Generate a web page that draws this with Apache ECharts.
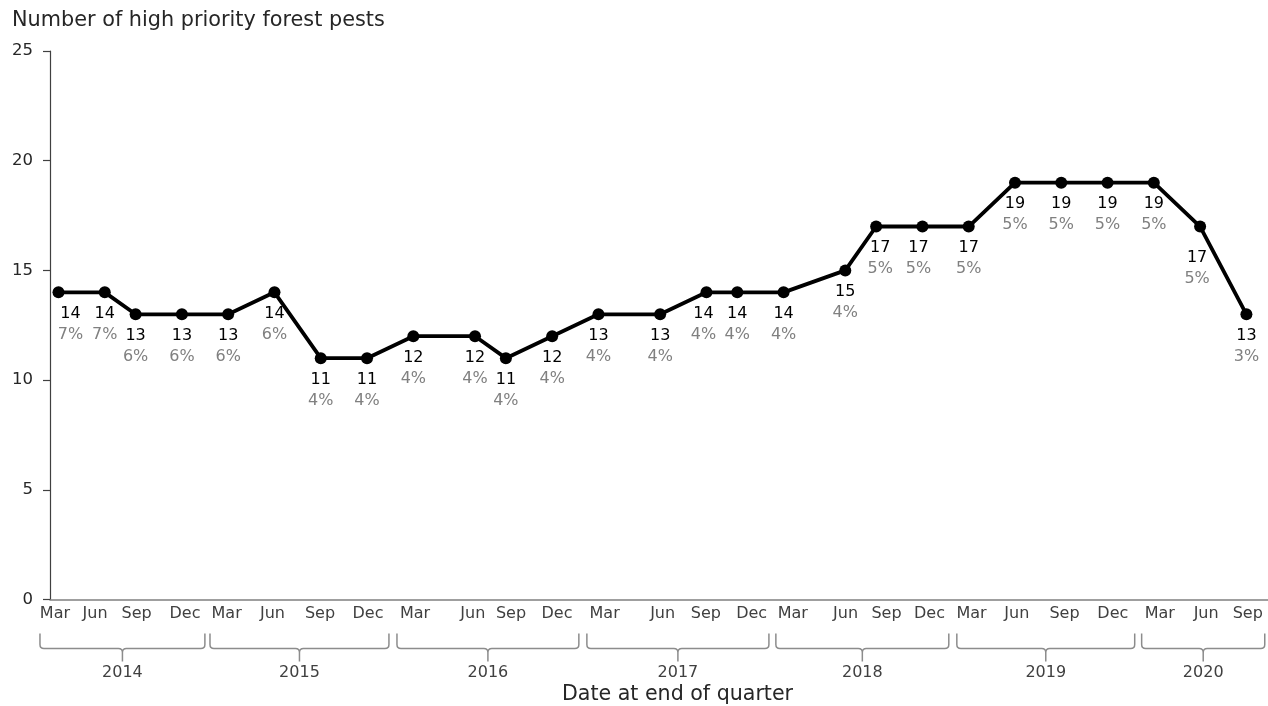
<!DOCTYPE html>
<html>
<head>
<meta charset="utf-8">
<script src="https://cdn.jsdelivr.net/npm/echarts@6/dist/echarts.min.js"></script>
<style>
  html, body { margin: 0; padding: 0; background: #ffffff; }
  #chart { width: 1268px; height: 706px; }
</style>
</head>
<body>
<div id="chart"></div>
<script>
// High priority forest pests counted at the end of each quarter, Mar 2014 - Sep 2020.
// Positions along the time line, in months after March 2014.
const monthOffsets = [0, 3, 5, 8, 11, 14, 17, 20, 23, 27, 29, 32, 35, 39, 42, 44, 47, 51, 53, 56, 59, 62, 65, 68, 71, 74, 77];
const pestCounts = [14, 14, 13, 13, 13, 14, 11, 11, 12, 12, 11, 12, 13, 13, 14, 14, 14, 15, 17, 17, 17, 19, 19, 19, 19, 17, 13];
const pestShares = [7, 7, 6, 6, 6, 6, 4, 4, 4, 4, 4, 4, 4, 4, 4, 4, 4, 4, 5, 5, 5, 5, 5, 5, 5, 5, 3];

// Quarter tick labels and where they sit on the time line (months after March 2014),
// spread a little where neighbouring quarters are close together.
const quarterLabels = ['Mar', 'Jun', 'Sep', 'Dec', 'Mar', 'Jun', 'Sep', 'Dec', 'Mar', 'Jun', 'Sep', 'Dec',
                       'Mar', 'Jun', 'Sep', 'Dec', 'Mar', 'Jun', 'Sep', 'Dec', 'Mar', 'Jun', 'Sep', 'Dec',
                       'Mar', 'Jun', 'Sep'];
const quarterLabelMonths = [-0.23, 2.37, 5.06, 8.2, 10.9, 13.87, 16.95, 20.06, 23.11, 26.86, 29.33, 32.31,
                            35.4, 39.16, 41.96, 44.93, 47.6, 51.02, 53.67, 56.46, 59.18, 62.12, 65.21, 68.34,
                            71.39, 74.39, 77.09];

// Year groupings under the quarter labels (start and end, in months after March 2014).
const years = ['2014', '2015', '2016', '2017', '2018', '2019', '2020'];
const yearStarts = [-1.2, 9.82, 21.94, 34.25, 46.5, 58.23, 70.21];
const yearEnds = [9.49, 21.42, 33.73, 46.05, 57.71, 69.76, 78.19];

const yTicks = { min: 0, max: 25, step: 5 };

const FONT = 'Verdana, "DejaVu Sans", sans-serif';
const chart = echarts.init(document.getElementById('chart'), null, { renderer: 'canvas' });

// Small label nudges where a label would touch the line or the axis.
const labelNudge = { 0: [12, 0], 14: [-3, 0], 18: [4, 0], 19: [-4, 0], 25: [-3, 10] };

const lineData = monthOffsets.map((m, i) => {
  const item = { value: [m, pestCounts[i]] };
  if (labelNudge[i]) item.label = { offset: labelNudge[i] };
  return item;
});

// Curly brace with a centre point, drawn beneath the axis for each year.
function renderYearBrace(params, api) {
  const i = params.dataIndex;
  const p0 = api.coord([api.value(0), 0]);
  const p1 = api.coord([api.value(1), 0]);
  const base = p0[1];
  const x0 = p0[0], x1 = p1[0], xc = (x0 + x1) / 2;
  const top = base + 34, h = base + 49, bot = base + 62, r = 4;
  const d = [
    'M', x0, top, 'L', x0, h - r, 'Q', x0, h, x0 + r, h,
    'L', xc - r, h, 'Q', xc, h, xc, h + r, 'L', xc, bot,
    'M', xc, h + r, 'Q', xc, h, xc + r, h,
    'L', x1 - r, h, 'Q', x1, h, x1, h - r, 'L', x1, top
  ].join(' ');
  return {
    type: 'group',
    children: [
      {
        type: 'path',
        shape: { pathData: d },
        style: { fill: 'none', stroke: '#8c8c8c', lineWidth: 1.5 }
      },
      {
        type: 'text',
        style: {
          text: years[i], x: xc, y: base + 73,
          align: 'center', verticalAlign: 'middle',
          font: '16px ' + FONT, fill: '#404040'
        }
      }
    ]
  };
}

chart.setOption({
  animation: false,
  backgroundColor: '#ffffff',
  textStyle: { fontFamily: FONT },
  grid: { left: 50, right: 0, top: 51, bottom: 106.5, containLabel: false, outerBoundsMode: 'none' },
  graphic: [
    {
      type: 'text', left: 12, top: 10,
      style: { text: 'Number of high priority forest pests', font: '20.8px ' + FONT, fill: '#262626' }
    },
    {
      type: 'text', x: 677.5, y: 695,
      style: { text: 'Date at end of quarter', font: '20.6px ' + FONT, fill: '#262626', align: 'center', verticalAlign: 'middle' }
    }
  ],
  xAxis: {
    type: 'value',
    min: -0.55,
    max: 78.4,
    splitLine: { show: false },
    axisLine: { show: true, onZero: false, lineStyle: { color: '#808080', width: 1.5 } },
    axisTick: { show: false },
    axisLabel: {
      customValues: quarterLabelMonths,
      formatter: (v) => quarterLabels[quarterLabelMonths.indexOf(v)],
      margin: 6,
      fontSize: 16,
      color: '#404040',
      fontFamily: FONT
    }
  },
  yAxis: {
    type: 'value',
    min: yTicks.min,
    max: yTicks.max,
    interval: yTicks.step,
    splitLine: { show: false },
    axisLine: { show: true, onZero: false, lineStyle: { color: '#404040', width: 1.2 } },
    axisTick: { show: true, inside: false, length: 7, lineStyle: { color: '#404040', width: 1.2 } },
    axisLabel: { margin: 17, fontSize: 16.5, color: '#262626', fontFamily: FONT }
  },
  series: [
    {
      type: 'line',
      data: lineData,
      symbol: 'circle',
      symbolSize: 12,
      lineStyle: { color: '#000000', width: 3.8 },
      itemStyle: { color: '#000000' },
      z: 3,
      label: {
        show: true,
        position: 'bottom',
        distance: 5,
        formatter: (p) => '{v|' + pestCounts[p.dataIndex] + '}\n{p|' + pestShares[p.dataIndex] + '%}',
        rich: {
          v: { fontSize: 16, color: '#000000', lineHeight: 21, fontFamily: FONT },
          p: { fontSize: 16, color: '#808080', lineHeight: 21, fontFamily: FONT }
        }
      }
    },
    {
      type: 'custom',
      clip: false,
      silent: true,
      renderItem: renderYearBrace,
      encode: { x: [0, 1] },
      data: years.map((y, i) => [yearStarts[i], yearEnds[i]])
    }
  ]
});
</script>
</body>
</html>
